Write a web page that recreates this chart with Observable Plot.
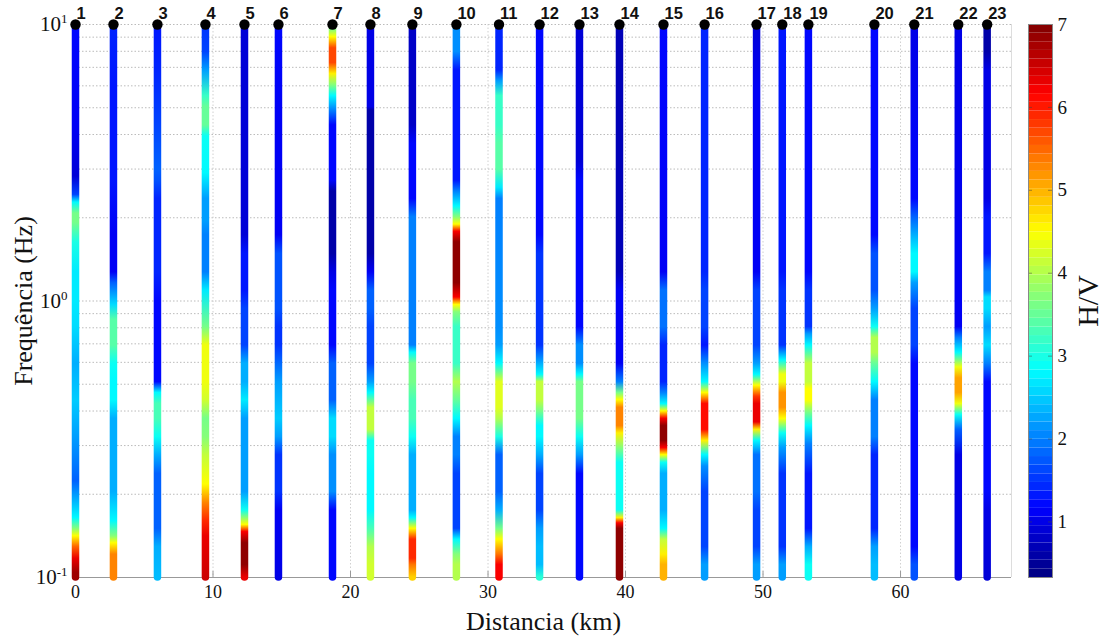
<!DOCTYPE html>
<html>
<head>
<meta charset="utf-8">
<script src="https://cdn.jsdelivr.net/npm/d3@7"></script>
<script src="https://cdn.jsdelivr.net/npm/@observablehq/plot@0.6"></script>
<style>
  body { margin: 0; background: #fff; }
  #wrap { position: relative; width: 1110px; height: 639px; overflow: hidden; }
  #main { position: absolute; left: 0; top: 0; }
  #cbar { position: absolute; left: 1016px; top: 0; }
  svg { max-width: none !important; }
</style>
</head>
<body>
<div id="wrap"><div id="main"></div><div id="cbar"></div></div>
<script>
// Station numbers and their position along the profile (km)
const stationId = [1, 2, 3, 4, 5, 6, 7, 8, 9, 10, 11, 12, 13, 14, 15, 16, 17, 18, 19, 20, 21, 22, 23];
const stationKm = [0, 2.76, 5.96, 9.45, 12.29, 14.76, 18.69, 21.45, 24.5, 27.7, 30.8, 33.75,
                   36.65, 39.56, 42.76, 45.75, 49.53, 51.4, 53.3, 58.1, 61.0, 64.2, 66.3];

// H/V spectral ratio per station: [frequency (Hz), H/V], from 10 Hz down to 0.1 Hz
const hvProfiles = [
  [[10,1.2],[4.3,1.1],[2.82,0.9],[2.42,1.6],[2.27,2.8],[2.07,3.6],[1.92,3.6],[1.63,3.0],[1.27,2.7],[1.0,2.7],[0.805,2.6],[0.593,2.3],[0.438,2.5],[0.322,2.2],[0.223,1.8],[0.164,2.8],[0.15,3.7],[0.141,4.5],[0.129,5.5],[0.117,6.3],[0.104,6.8],[0.1,6.8]],
  [[10,1.4],[5.86,1.3],[2.73,1.3],[1.73,1.1],[1.27,1.1],[1.16,1.8],[0.967,2.6],[0.855,3.4],[0.691,3.4],[0.593,2.9],[0.509,2.8],[0.438,2.8],[0.375,2.3],[0.277,2.3],[0.204,2.3],[0.16,2.8],[0.141,3.7],[0.133,4.5],[0.121,5.3],[0.1,5.3]],
  [[10,1.3],[6.83,1.4],[4.32,1.6],[2.99,1.8],[2.73,1.7],[2.34,1.4],[1.27,1.4],[1.0,1.2],[0.509,1.2],[0.465,2.8],[0.424,3.3],[0.375,3.3],[0.322,2.9],[0.277,2.3],[0.237,1.8],[0.15,1.8],[0.129,2.3],[0.1,2.4]],
  [[10,1.5],[7.96,1.6],[6.83,2.2],[5.51,3.2],[5.03,3.5],[4.32,3.5],[3.94,2.9],[2.9,2.8],[2.34,2.2],[1.95,2.2],[1.73,2.0],[1.27,2.0],[1.09,2.7],[0.805,3.6],[0.691,4.4],[0.509,4.4],[0.438,4.2],[0.375,3.6],[0.322,3.7],[0.277,4.1],[0.217,4.5],[0.186,5.3],[0.16,5.9],[0.141,6.3],[0.1,6.5]],
  [[10,0.9],[1.73,0.9],[1.48,1.3],[1.09,1.3],[0.937,1.6],[0.691,1.6],[0.593,2.3],[0.509,2.3],[0.438,2.7],[0.375,2.2],[0.204,2.2],[0.175,2.9],[0.155,4.5],[0.146,6.2],[0.133,6.9],[0.111,6.9],[0.1,6.3]],
  [[10,1.2],[4.32,1.1],[1.73,1.1],[1.48,1.7],[0.937,1.7],[0.805,1.5],[0.691,1.5],[0.509,2.2],[0.375,2.5],[0.322,2.2],[0.277,1.5],[0.204,1.5],[0.175,1.1],[0.1,1.0]],
  [[10,3.7],[9.55,3.7],[9.0,4.5],[8.2,5.7],[7.26,5.7],[6.62,4.6],[6.04,3.7],[5.51,2.8],[4.88,2.0],[4.32,1.2],[2.73,1.2],[2.49,0.6],[1.48,0.6],[1.27,1.0],[1.09,1.2],[0.691,1.2],[0.593,1.8],[0.438,1.8],[0.375,2.6],[0.322,2.6],[0.277,2.1],[0.204,2.1],[0.175,1.2],[0.1,1.2]],
  [[10,1.0],[5.03,1.0],[4.88,0.6],[1.48,0.6],[1.27,1.1],[1.09,1.8],[0.937,1.8],[0.805,1.6],[0.593,1.6],[0.509,2.2],[0.465,2.8],[0.411,4.1],[0.342,4.1],[0.312,2.9],[0.277,2.9],[0.237,2.8],[0.175,2.8],[0.15,3.3],[0.129,4.0],[0.111,4.2],[0.1,4.2]],
  [[10,0.8],[4.32,0.8],[3.7,1.2],[2.34,1.2],[2.01,2.0],[0.691,2.0],[0.65,2.8],[0.593,3.6],[0.509,3.6],[0.438,3.3],[0.375,3.3],[0.322,2.9],[0.277,2.3],[0.175,2.3],[0.164,2.8],[0.15,4.5],[0.137,5.9],[0.117,5.9],[0.111,5.4],[0.1,4.8]],
  [[10,2.1],[7.96,2.1],[6.83,1.3],[2.73,1.3],[2.49,2.0],[2.2,2.8],[2.01,3.7],[1.89,4.5],[1.78,6.2],[1.63,6.9],[1.16,6.9],[1.03,6.2],[0.967,4.5],[0.91,3.7],[0.805,3.2],[0.593,3.2],[0.509,4.0],[0.438,3.5],[0.375,2.8],[0.322,2.0],[0.277,2.0],[0.237,1.6],[0.15,1.6],[0.137,2.8],[0.121,3.7],[0.111,4.0],[0.1,4.0]],
  [[10,1.4],[6.83,1.4],[6.23,2.2],[5.51,3.2],[4.32,3.2],[3.7,3.4],[2.99,3.4],[2.57,2.7],[2.34,2.0],[0.805,2.1],[0.691,2.2],[0.593,2.8],[0.509,4.3],[0.411,4.3],[0.375,4.0],[0.322,3.0],[0.277,1.8],[0.204,1.8],[0.175,2.3],[0.15,3.6],[0.137,4.5],[0.121,5.4],[0.111,6.2],[0.1,6.2]],
  [[10,1.2],[1.73,1.2],[1.48,1.5],[0.691,1.5],[0.593,2.3],[0.541,2.8],[0.509,4.1],[0.438,4.1],[0.399,3.6],[0.353,2.8],[0.322,2.8],[0.277,2.3],[0.237,1.6],[0.175,1.6],[0.15,2.2],[0.129,2.4],[0.111,2.4],[0.1,3.1]],
  [[10,0.9],[3.18,0.9],[2.73,1.2],[0.805,1.2],[0.691,2.1],[0.593,2.1],[0.541,2.8],[0.509,3.6],[0.375,3.6],[0.322,2.9],[0.277,2.2],[0.237,1.2],[0.1,1.2]],
  [[10,0.7],[1.27,0.7],[1.09,1.1],[0.593,1.1],[0.509,2.0],[0.465,3.6],[0.438,4.5],[0.411,5.3],[0.353,5.3],[0.332,4.6],[0.294,3.7],[0.26,2.9],[0.175,2.9],[0.164,4.6],[0.157,6.2],[0.15,6.9],[0.1,6.9]],
  [[10,1.2],[1.27,1.1],[1.09,1.9],[0.805,1.9],[0.691,1.4],[0.509,1.4],[0.465,2.0],[0.424,2.8],[0.399,4.5],[0.375,6.2],[0.353,6.9],[0.312,6.9],[0.294,6.2],[0.277,4.5],[0.26,2.9],[0.237,2.3],[0.175,2.3],[0.15,2.8],[0.137,4.1],[0.121,4.6],[0.111,5.0],[0.1,5.0]],
  [[10,1.4],[1.27,1.4],[1.09,1.6],[0.805,1.6],[0.691,1.3],[0.593,2.1],[0.509,2.8],[0.465,4.5],[0.424,6.1],[0.342,6.1],[0.312,4.6],[0.277,2.8],[0.252,2.1],[0.204,1.6],[0.129,1.6],[0.111,2.2],[0.1,2.2]],
  [[10,0.9],[5.86,1.1],[1.27,1.1],[1.09,1.6],[0.691,1.6],[0.593,2.2],[0.541,2.8],[0.494,4.5],[0.451,5.8],[0.424,6.3],[0.364,6.3],[0.342,4.6],[0.312,2.8],[0.277,1.9],[0.204,1.9],[0.175,1.6],[0.129,1.6],[0.111,2.2],[0.1,2.2]],
  [[10,1.3],[1.27,1.3],[1.09,1.5],[0.691,1.5],[0.611,2.8],[0.541,4.4],[0.509,4.4],[0.465,5.2],[0.411,5.2],[0.375,4.5],[0.332,2.9],[0.294,2.2],[0.237,1.5],[0.129,1.5],[0.111,2.2],[0.1,2.2]],
  [[10,1.2],[1.27,1.2],[1.09,1.5],[0.805,1.5],[0.757,2.2],[0.691,2.8],[0.593,4.1],[0.509,4.1],[0.479,4.5],[0.438,4.5],[0.399,3.7],[0.353,2.8],[0.303,2.0],[0.237,1.3],[0.15,1.3],[0.129,2.3],[0.111,2.9],[0.1,2.9]],
  [[10,1.2],[1.73,1.2],[1.48,1.7],[1.09,1.7],[0.937,2.2],[0.805,2.9],[0.735,4.0],[0.65,4.0],[0.593,3.5],[0.509,2.8],[0.438,2.0],[0.322,2.0],[0.277,1.4],[0.15,1.4],[0.129,2.2],[0.111,2.4],[0.1,2.4]],
  [[10,1.0],[2.34,1.2],[2.01,1.8],[1.63,2.5],[1.48,2.8],[1.27,2.8],[1.16,2.2],[0.937,1.6],[0.691,1.6],[0.593,1.2],[0.129,1.2],[0.111,1.7],[0.1,1.7]],
  [[10,1.0],[0.805,1.1],[0.735,2.0],[0.65,2.8],[0.575,4.4],[0.525,5.1],[0.465,5.1],[0.424,4.4],[0.387,2.9],[0.342,1.8],[0.277,1.0],[0.1,1.0]],
  [[10,0.6],[7.96,0.6],[6.83,1.0],[2.34,1.0],[2.01,1.3],[1.48,1.3],[1.27,2.0],[1.09,2.0],[1.03,2.6],[0.937,2.6],[0.805,2.2],[0.691,2.6],[0.593,2.0],[0.509,1.2],[0.204,1.2],[0.175,1.0],[0.1,0.9]]
];

// Axis and colour bar ticks
const xTicks = [0, 10, 20, 30, 40, 50, 60];
const xGrid = [10, 20, 30, 40, 50, 60];
const yTicks = [0.1, 1, 10];
const yGrid = [0.2, 0.3, 0.4, 0.5, 0.6, 0.7, 0.8, 0.9, 1, 2, 3, 4, 5, 6, 7, 8, 9, 10];
const hvDomain = [0.33, 7];
const cbarTicks = [1, 2, 3, 4, 5, 6, 7];

// MATLAB-style "jet" colour ramp
function jet(t) {
  const c = v => Math.max(0, Math.min(1, v));
  const r = c(1.5 - Math.abs(4 * t - 3));
  const g = c(1.5 - Math.abs(4 * t - 2));
  const b = c(1.5 - Math.abs(4 * t - 1));
  return `rgb(${Math.round(r * 255)},${Math.round(g * 255)},${Math.round(b * 255)})`;
}

const serif = "'Liberation Serif','Times New Roman',Times,serif";
const stations = stationId.map((id, i) => ({id, km: stationKm[i], profile: hvProfiles[i]}));

// ---- colour bar ----
const nLevels = 64;
const step = (hvDomain[1] - hvDomain[0]) / nLevels;
const levels = d3.range(nLevels).map(k => ({lo: hvDomain[0] + k * step, hi: hvDomain[0] + (k + 1) * step}));

const cbar = Plot.plot({
  width: 94, height: 639,
  marginLeft: 12, marginRight: 58, marginTop: 24, marginBottom: 62,
  style: {background: "transparent", fontFamily: serif, fontSize: "18px", overflow: "visible"},
  x: {domain: [0, 1], axis: null},
  y: {domain: hvDomain, axis: null},
  color: {type: "linear", domain: hvDomain, interpolate: jet, clamp: true},
  marks: [
    Plot.rect(levels, {x1: 0, x2: 1, y1: "lo", y2: "hi", fill: d => (d.lo + d.hi) / 2}),
    Plot.ruleY(cbarTicks, {insetRight: 20, stroke: "#444", strokeOpacity: 0.5}),
    Plot.ruleY(cbarTicks, {insetLeft: 20, stroke: "#444", strokeOpacity: 0.5}),
    Plot.frame({stroke: "#888"}),
    Plot.axisY(cbarTicks, {anchor: "right", tickSize: 0, tickPadding: 5, label: null, fill: "#111",
      fontSize: 19, tickFormat: d => String(d)}),
    Plot.text(["H/V"], {frameAnchor: "right", dx: 36, rotate: -90, textAnchor: "middle", fontSize: 30, fill: "#111"})
  ]
});
document.getElementById("cbar").appendChild(cbar);
const color = cbar.scale("color");

// ---- main chart ----
const chart = Plot.plot({
  width: 1016, height: 639,
  marginLeft: 75, marginRight: 5, marginTop: 24, marginBottom: 62,
  style: {background: "transparent", fontFamily: serif, fontSize: "18px", overflow: "visible"},
  x: {domain: [0, 68.07], axis: null},
  y: {type: "log", domain: [0.1, 10], axis: null},
  marks: [
    Plot.ruleY(yGrid, {stroke: "#bbb", strokeDasharray: "1.5,2", strokeWidth: 1}),
    Plot.ruleX(xGrid, {stroke: "#d0d0d0", strokeDasharray: "1.5,2", strokeWidth: 1}),
    Plot.ruleX(xGrid, {insetTop: 547, stroke: "#999"}),
    Plot.ruleY([0.1], {stroke: "#999"}),
    Plot.ruleX([68.07], {stroke: "#ddd"}),
    Plot.axisX(xTicks, {anchor: "bottom", tickSize: 0, tickPadding: 8, label: null, fill: "#111", fontSize: 18}),
    Plot.axisY(yTicks, {anchor: "left", tickSize: 0, tickPadding: 8, label: null, fill: "#111", fontSize: 21,
      tickFormat: d => `10^${Math.round(Math.log10(d))}`}),
    Plot.ruleX(stations, {x: "km", y1: 0.1, y2: 10, strokeWidth: 7.5, strokeLinecap: "round", stroke: "#0000ff"}),
    Plot.dot(stations, {x: "km", y: () => 10, r: 5.2, fill: "black", stroke: "none"}),
    Plot.text(stations, {x: "km", y: () => 10, text: "id", dx: 1, dy: -11, textAnchor: "start",
      fontFamily: "'Liberation Sans',Arial,Helvetica,sans-serif", fontWeight: "bold", fontSize: 16.5, fill: "#111"}),
    Plot.text(["Distancia (km)"], {frameAnchor: "bottom", dy: 52, fontSize: 26, fill: "#111"}),
    Plot.text(["Frequência (Hz)"], {frameAnchor: "left", dx: -52, rotate: -90, textAnchor: "middle", fontSize: 26, fill: "#111"})
  ]
});
document.getElementById("main").appendChild(chart);

// Vertical colour gradient for each station strip, positioned with the y scale
const y = chart.scale("y");
const yTop = y.apply(10), yBot = y.apply(0.1);
const defs = d3.select(chart).insert("defs", ":first-child");
stations.forEach((s, i) => {
  const g = defs.append("linearGradient")
    .attr("id", `hvgrad${i}`)
    .attr("gradientUnits", "userSpaceOnUse")
    .attr("x1", 0).attr("x2", 0)
    .attr("y1", yTop).attr("y2", yBot);
  s.profile.forEach(([f, v]) => {
    g.append("stop")
      .attr("offset", (y.apply(f) - yTop) / (yBot - yTop))
      .attr("stop-color", color.apply(v));
  });
});
const stripGroup = d3.select(chart).selectAll("g")
  .filter(function () { return this.getAttribute("stroke-linecap") === "round"; });
stripGroup.selectAll("line").attr("stroke", (d, i) => `url(#hvgrad${i})`);

// Powers of ten with raised exponents
d3.select(chart).selectAll('g[aria-label="y-axis tick label"] text').each(function () {
  const [base, exp] = this.textContent.split("^");
  const t = d3.select(this);
  t.text(null);
  t.append("tspan").text(base);
  t.append("tspan").attr("dy", "-0.6em").attr("font-size", "0.62em").text(exp);
});
</script>
</body>
</html>
